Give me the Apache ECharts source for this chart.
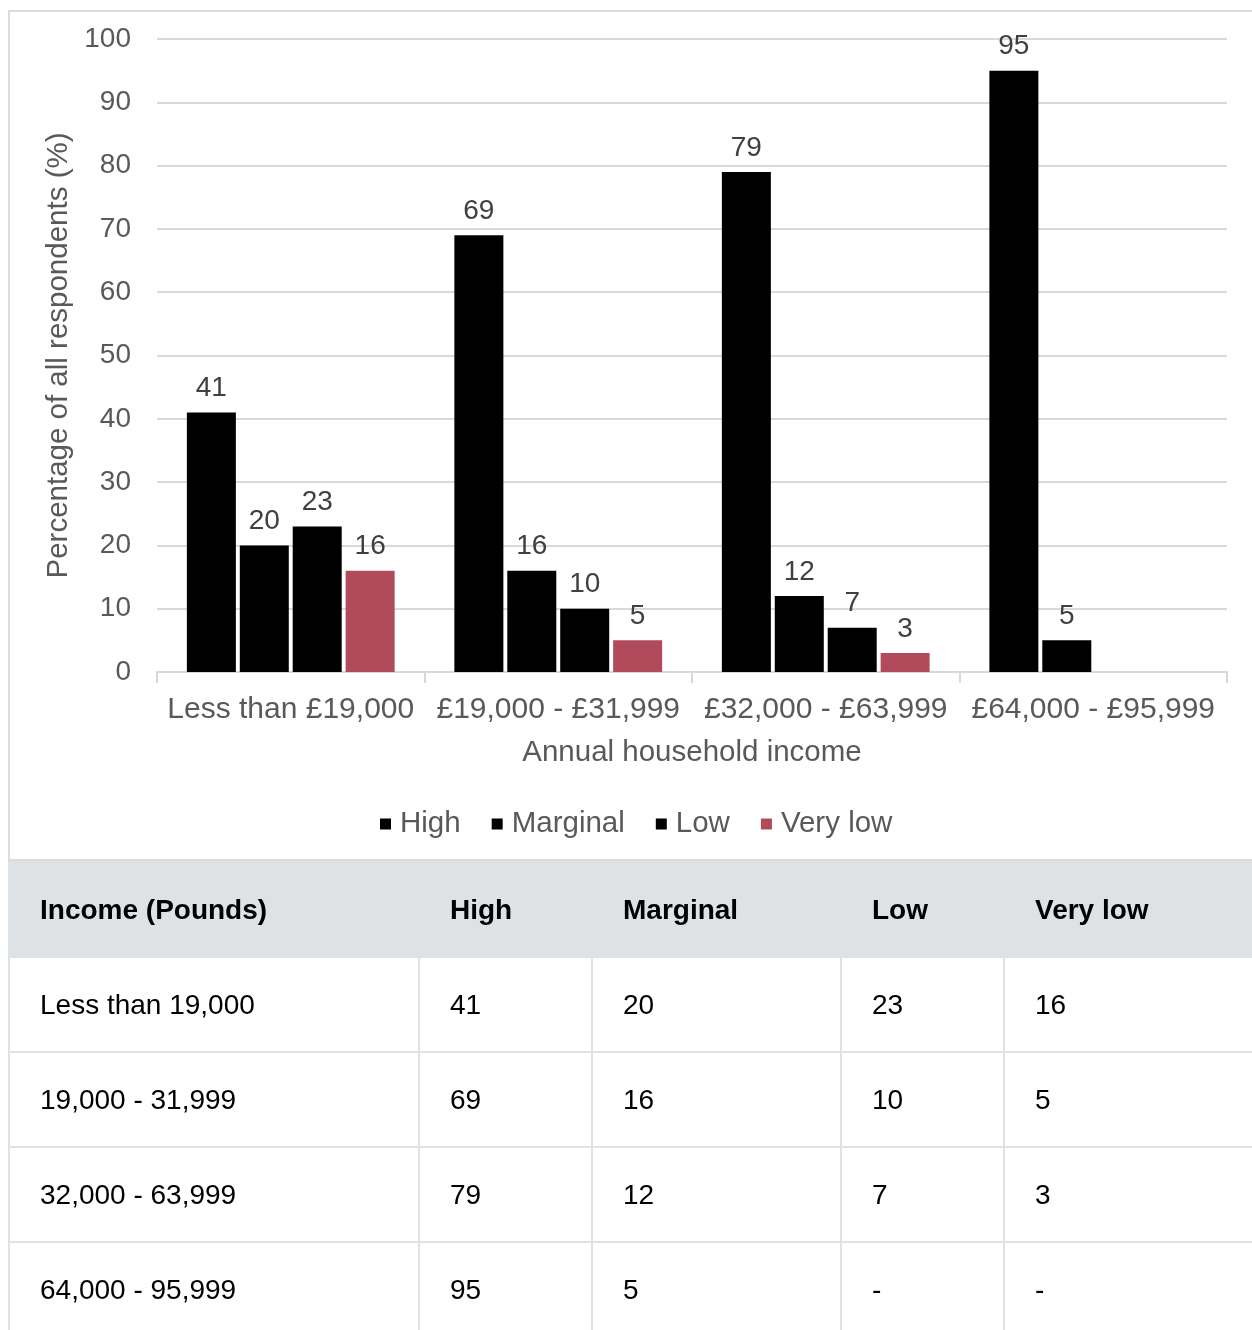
<!DOCTYPE html>
<html>
<head>
<meta charset="utf-8">
<script src="https://cdn.jsdelivr.net/npm/echarts@6/dist/echarts.min.js"></script>
<style>
  html, body { margin: 0; padding: 0; background: #fff; width: 1252px; height: 1330px; overflow: hidden; }
  #frame { position: absolute; left: 8px; top: 10px; width: 1250px; height: 851px; border: 2px solid #dcdcdc; box-sizing: border-box; }
  #chart { position: absolute; left: 0; top: 0; width: 1252px; height: 862px; }
  #tbl { position: absolute; left: 8px; top: 861px; border-collapse: collapse; font-family: "Liberation Sans", Arial, sans-serif; font-size: 28px; color: #000; table-layout: fixed; }
  #tbl th, #tbl td { height: 95px; padding: 0 0 0 30px; text-align: left; border: 2px solid #dfe2e5; box-sizing: border-box; }
  #tbl th { background: #dfe2e5; font-weight: bold; }
</style>
</head>
<body>
<div id="frame"></div>
<div id="chart"></div>
<table id="tbl"></table>
<script>
// Food security by annual household income
const categories = ['Less than £19,000', '£19,000 - £31,999', '£32,000 - £63,999', '£64,000 - £95,999'];
const tableIncome = ['Less than 19,000', '19,000 - 31,999', '32,000 - 63,999', '64,000 - 95,999'];
const seriesNames = ['High', 'Marginal', 'Low', 'Very low'];
const high = [41, 69, 79, 95];
const marginal = [20, 16, 12, 5];
const low = [23, 10, 7, null];
const veryLow = [16, 5, 3, null];
const yTicks = [0, 10, 20, 30, 40, 50, 60, 70, 80, 90, 100];

const colors = ['#000000', '#000000', '#000000', '#b14b5b'];
const values = [high, marginal, low, veryLow];
const FONT = '"Liberation Sans", Arial, sans-serif';

const chart = echarts.init(document.getElementById('chart'), null, { renderer: 'canvas' });

const series = seriesNames.map((name, i) => ({
  name: name,
  type: 'bar',
  barWidth: 49,
  barGap: '8%',
  itemStyle: { color: colors[i] },
  label: {
    show: true,
    position: 'top',
    distance: 10,
    color: '#404040',
    fontSize: 28,
    fontFamily: FONT
  },
  data: values[i].map(v => (v === null ? '-' : v))
}));

chart.setOption({
  animation: false,
  textStyle: { fontFamily: FONT },
  grid: { left: 157, right: 25, top: 39, bottom: 862 - 672 },
  legend: {
    data: seriesNames,
    top: 804,
    left: 375,
    icon: 'rect',
    itemWidth: 11,
    itemHeight: 11,
    itemGap: 31,
    textStyle: { fontSize: 29.5, color: '#595959', fontFamily: FONT, padding: [0, 0, 0, 4] }
  },
  xAxis: {
    type: 'category',
    data: categories,
    name: 'Annual household income',
    nameLocation: 'middle',
    nameGap: 66,
    nameTextStyle: { fontSize: 29.5, color: '#595959', fontFamily: FONT },
    axisLine: { lineStyle: { color: '#d9d9d9', width: 2 } },
    axisTick: { show: true, length: 11, lineStyle: { color: '#d9d9d9', width: 2 } },
    axisLabel: { fontSize: 30, color: '#595959', margin: 23, fontFamily: FONT, interval: 0 }
  },
  yAxis: {
    type: 'value',
    min: yTicks[0],
    max: yTicks[yTicks.length - 1],
    interval: 10,
    name: 'Percentage of all respondents (%)',
    nameLocation: 'middle',
    nameGap: 83,
    nameTextStyle: { fontSize: 29.5, color: '#595959', fontFamily: FONT },
    axisLine: { show: false },
    axisTick: { show: false },
    axisLabel: { fontSize: 28, color: '#595959', margin: 26, fontFamily: FONT },
    splitLine: { lineStyle: { color: '#d9d9d9', width: 2 } }
  },
  series: series
});

// Data table beneath the chart, built from the same arrays
const colWidths = [410, 173, 249, 163, 249];
const tbl = document.getElementById('tbl');
let html = '<colgroup>' + colWidths.map(w => '<col style="width:' + w + 'px">').join('') + '</colgroup>';
html += '<tr><th>Income (Pounds)</th><th>High</th><th style="border-left-color:#dfe2e5">Marginal</th><th>Low</th><th>Very low</th></tr>';
tableIncome.forEach((inc, r) => {
  const cells = [inc].concat(values.map(arr => (arr[r] === null ? '-' : String(arr[r]))));
  html += '<tr>' + cells.map(c => '<td>' + c + '</td>').join('') + '</tr>';
});
tbl.innerHTML = html;
tbl.style.width = colWidths.reduce((a, b) => a + b, 0) + 'px';
</script>
</body>
</html>
